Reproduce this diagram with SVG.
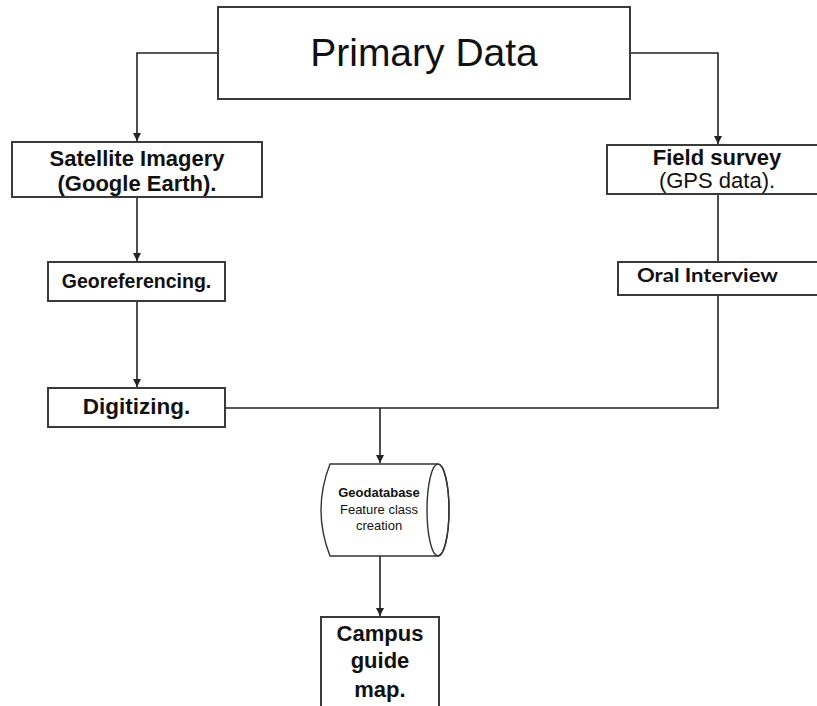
<svg xmlns="http://www.w3.org/2000/svg" width="817" height="706" viewBox="0 0 817 706">
<style>
.box{fill:#fff;stroke:#3a3a3a;stroke-width:2}
.ln{fill:none;stroke:#222;stroke-width:1.6}
.t{font-family:"Liberation Sans",Arial,sans-serif;fill:#111;text-anchor:middle}
.b{font-weight:bold}
</style>
<defs>
<marker id="ah" viewBox="0 0 10 10" refX="10" refY="5" markerWidth="8" markerHeight="8" markerUnits="userSpaceOnUse" orient="auto">
<path d="M0,0 L10,5 L0,10 z" fill="#222"/>
</marker>
</defs>
<rect width="817" height="706" fill="#fff"/>
<g id="connectors">
<path class="ln" d="M218,53 H137 V141" marker-end="url(#ah)"/>
<path class="ln" d="M630,53 H718 V144" marker-end="url(#ah)"/>
<path class="ln" d="M137,197 V261" marker-end="url(#ah)"/>
<path class="ln" d="M137,301 V387" marker-end="url(#ah)"/>
<path class="ln" d="M718,194 V262"/>
<path class="ln" d="M718,295 V408 H225"/>
<path class="ln" d="M380,408 V463" marker-end="url(#ah)"/>
<path class="ln" d="M380,556 V616" marker-end="url(#ah)"/>
</g>
<g id="primary">
<rect class="box" x="218" y="7" width="412" height="92"/>
<text class="t" x="424" y="66" font-size="39">Primary Data</text>
</g>
<g id="satellite">
<rect class="box" x="12" y="142" width="250" height="55"/>
<text class="t b" x="137" y="166" font-size="22">Satellite Imagery</text>
<text class="t b" x="137" y="191" font-size="22">(Google Earth).</text>
</g>
<g id="field">
<rect class="box" x="607" y="145" width="215" height="49"/>
<text class="t b" x="717" y="165" font-size="22">Field survey</text>
<text class="t" x="717" y="188" font-size="22">(GPS data).</text>
</g>
<g id="georef">
<rect class="box" x="48" y="262" width="177" height="39"/>
<text class="t b" x="136.5" y="288" font-size="19.5">Georeferencing.</text>
</g>
<g id="oral">
<rect class="box" x="618" y="262" width="204" height="33"/>
<text x="637" y="282" font-family="Lato,'Open Sans',sans-serif" font-weight="bold" font-size="19.5" fill="#111" textLength="141" lengthAdjust="spacingAndGlyphs">Oral Interview</text>
</g>
<g id="digitizing">
<rect class="box" x="48" y="388" width="177" height="39"/>
<text class="t b" x="136.5" y="414" font-size="22.5">Digitizing.</text>
</g>
<g id="geodatabase">
<path d="M330,464 H438 A11,46 0 0 1 438,556 H330 Q312,510 330,464 z" fill="#fff" stroke="#333" stroke-width="1.4"/>
<ellipse cx="438" cy="510" rx="11" ry="46" fill="none" stroke="#333" stroke-width="1.4"/>
<text class="t b" x="379" y="497" font-size="13">Geodatabase</text>
<text class="t" x="379" y="514" font-size="13">Feature class</text>
<text class="t" x="379" y="530" font-size="13">creation</text>
</g>
<g id="campus">
<rect class="box" x="321" y="617" width="118" height="100"/>
<text class="t b" x="380" y="641" font-size="22">Campus</text>
<text class="t b" x="380" y="668" font-size="22">guide</text>
<text class="t b" x="380" y="697" font-size="22">map.</text>
</g>
</svg>
